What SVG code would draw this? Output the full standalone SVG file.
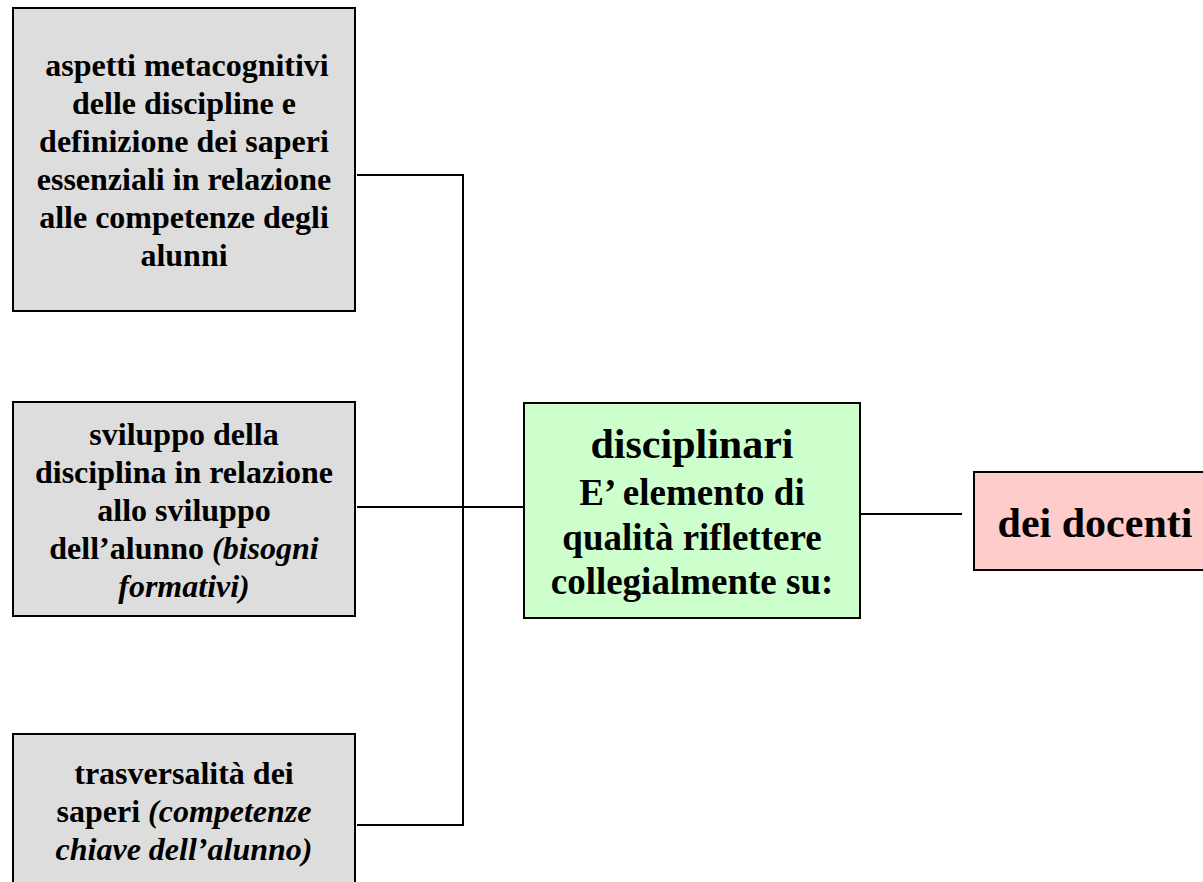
<svg xmlns="http://www.w3.org/2000/svg" width="1203" height="882" viewBox="0 0 1203 882">
<style>
.box{stroke:#000;stroke-width:2}
.grey{fill:#dddddd}
.green{fill:#ccffcc}
.pink{fill:#ffcccc}
text{font-family:"Liberation Serif","Times New Roman",serif;font-weight:bold;fill:#000;text-anchor:middle}
.s{font-size:32px}
.g{font-size:37px}
.t{font-size:42px}
.it{font-style:italic}
.conn{fill:none;stroke:#000;stroke-width:2}
</style>
<rect width="1203" height="882" fill="#fff"/>
<g id="connectors">
<polyline class="conn" points="357,175 463,175 463,825 357,825"/>
<line class="conn" x1="357" y1="507" x2="524" y2="507"/>
<line class="conn" x1="860" y1="514" x2="962" y2="514"/>
</g>
<g id="node-aspetti">
<rect class="box grey" x="13" y="8" width="342" height="303"/>
<text class="s" x="187" y="76">aspetti metacognitivi</text>
<text class="s" x="184" y="114">delle discipline e</text>
<text class="s" x="184" y="152">definizione dei saperi</text>
<text class="s" x="184" y="190">essenziali in relazione</text>
<text class="s" x="184" y="228">alle competenze degli</text>
<text class="s" x="184" y="266">alunni</text>
</g>
<g id="node-sviluppo">
<rect class="box grey" x="13" y="402" width="342" height="214"/>
<text class="s" x="184" y="445">sviluppo della</text>
<text class="s" x="184" y="483">disciplina in relazione</text>
<text class="s" x="184" y="521">allo sviluppo</text>
<text class="s" x="184" y="559">dell’alunno <tspan class="it">(bisogni</tspan></text>
<text class="s it" x="184" y="597">formativi)</text>
</g>
<g id="node-trasversalita">
<rect class="box grey" x="13" y="734" width="342" height="160"/>
<text class="s" x="184" y="784">trasversalità dei</text>
<text class="s" x="184" y="822">saperi <tspan class="it">(competenze</tspan></text>
<text class="s it" x="184" y="860">chiave dell’alunno)</text>
</g>
<g id="node-disciplinari">
<rect class="box green" x="524" y="403" width="336" height="215"/>
<text class="t" x="692" y="458">disciplinari</text>
<text class="g" x="692" y="505">E’ elemento di</text>
<text class="g" x="692" y="550">qualità riflettere</text>
<text class="g" x="692" y="594">collegialmente su:</text>
</g>
<g id="node-docenti">
<rect class="box pink" x="974" y="472" width="240" height="98"/>
<text class="t" x="1095" y="537">dei docenti</text>
</g>
</svg>
